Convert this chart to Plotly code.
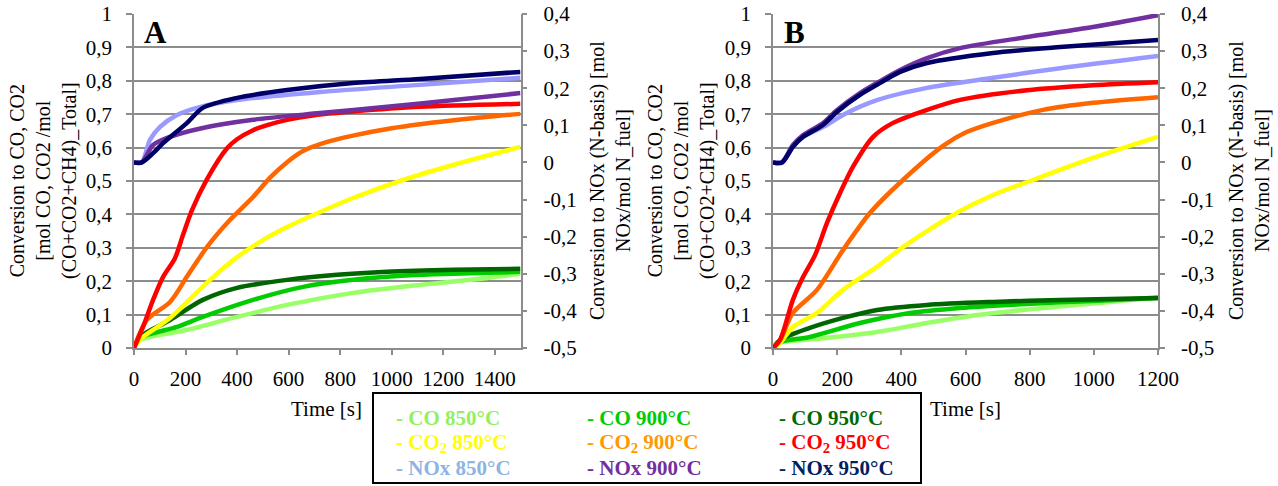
import plotly.graph_objects as go

W, H = 1278, 486

# ---------------- Data: panel A (time in s) ----------------
# CO / CO2 on left axis (0..1), NOx on right axis (-0.5..0.4)
A_co850_t = [0, 23, 205, 400, 594, 850, 1110, 1304, 1500]
A_co850_v = [0, 0.024, 0.054, 0.093, 0.129, 0.165, 0.189, 0.204, 0.222]
A_co900_t = [0, 23, 167, 267, 462, 656, 850, 1110, 1370, 1500]
A_co900_v = [0, 0.030, 0.063, 0.093, 0.144, 0.183, 0.204, 0.219, 0.225, 0.228]
A_co950_t = [0, 23, 140, 267, 400, 594, 788, 982, 1238, 1500]
A_co950_v = [0, 0.033, 0.084, 0.144, 0.180, 0.204, 0.219, 0.228, 0.234, 0.237]
A_co2850_t = [0, 30, 140, 295, 400, 500, 594, 722, 850, 1044, 1238, 1500]
A_co2850_v = [0, 0.030, 0.090, 0.204, 0.272, 0.323, 0.362, 0.407, 0.449, 0.503, 0.548, 0.602]
A_co2900_t = [0, 50, 140, 205, 283, 372, 462, 528, 600, 656, 750, 850, 1000, 1110, 1304, 1500]
A_co2900_v = [0, 0.084, 0.138, 0.213, 0.302, 0.383, 0.452, 0.510, 0.560, 0.590, 0.617, 0.636, 0.658, 0.670, 0.687, 0.701]
A_co2950_t = [0, 35, 74, 113, 159, 190, 225, 283, 361, 400, 462, 520, 594, 700, 850, 1110, 1500]
A_co2950_v = [0, 0.063, 0.144, 0.213, 0.269, 0.338, 0.413, 0.505, 0.598, 0.625, 0.652, 0.668, 0.683, 0.697, 0.708, 0.722, 0.731]
A_nox850_t = [0, 30, 62, 101, 167, 244, 400, 722, 1110, 1500]
A_nox850_v = [0, 0, 0.061, 0.096, 0.128, 0.147, 0.168, 0.190, 0.209, 0.228]
A_nox900_t = [0, 30, 74, 140, 267, 462, 722, 982, 1242, 1500]
A_nox900_v = [0, 0, 0.047, 0.069, 0.093, 0.115, 0.133, 0.150, 0.168, 0.187]
A_nox950_t = [0, 30, 74, 113, 205, 267, 400, 594, 850, 1110, 1500]
A_nox950_v = [0, 0, 0.025, 0.052, 0.106, 0.147, 0.174, 0.195, 0.214, 0.225, 0.244]

# ---------------- Data: panel B ----------------
B_co850_t = [0, 22, 168, 324, 480, 636, 842, 1050, 1200]
B_co850_v = [0, 0.015, 0.030, 0.048, 0.075, 0.099, 0.120, 0.138, 0.153]
B_co900_t = [0, 22, 115, 271, 427, 583, 792, 997, 1200]
B_co900_v = [0, 0.018, 0.033, 0.075, 0.105, 0.120, 0.132, 0.141, 0.150]
B_co950_t = [0, 22, 115, 218, 324, 480, 686, 895, 1200]
B_co950_v = [0, 0.024, 0.060, 0.090, 0.114, 0.129, 0.138, 0.144, 0.150]
B_co2850_t = [0, 22, 62, 137, 218, 324, 405, 480, 583, 686, 810, 997, 1200]
B_co2850_v = [0, 0.015, 0.063, 0.105, 0.174, 0.243, 0.302, 0.350, 0.410, 0.458, 0.503, 0.569, 0.632]
B_co2900_t = [0, 22, 62, 137, 218, 302, 405, 530, 600, 686, 842, 997, 1200]
B_co2900_v = [0, 0.024, 0.105, 0.174, 0.293, 0.404, 0.503, 0.605, 0.645, 0.674, 0.713, 0.734, 0.751]
B_co2950_t = [0, 22, 62, 94, 131, 168, 209, 249, 312, 374, 480, 583, 792, 997, 1200]
B_co2950_v = [0, 0.024, 0.144, 0.213, 0.278, 0.374, 0.464, 0.542, 0.632, 0.674, 0.713, 0.743, 0.772, 0.787, 0.796]
B_nox850_t = [0, 28, 62, 94, 168, 218, 324, 480, 686, 895, 1200]
B_nox850_v = [0, 0, 0.042, 0.069, 0.101, 0.128, 0.168, 0.201, 0.228, 0.254, 0.287]
B_nox900_t = [0, 28, 62, 94, 156, 199, 271, 324, 396, 480, 583, 792, 997, 1200]
B_nox900_v = [0, 0, 0.047, 0.074, 0.106, 0.141, 0.187, 0.214, 0.249, 0.281, 0.308, 0.338, 0.365, 0.397]
B_nox950_t = [0, 28, 62, 94, 156, 199, 271, 324, 396, 480, 686, 895, 1200]
B_nox950_v = [0, 0, 0.042, 0.069, 0.101, 0.136, 0.182, 0.209, 0.244, 0.268, 0.295, 0.311, 0.330]

# ---------------- Tick labels ----------------
left_vals = [0, 0.1, 0.2, 0.3, 0.4, 0.5, 0.6, 0.7, 0.8, 0.9, 1]
left_text = ["0", "0,1", "0,2", "0,3", "0,4", "0,5", "0,6", "0,7", "0,8", "0,9", "1"]
right_vals = [-0.5, -0.4, -0.3, -0.2, -0.1, 0, 0.1, 0.2, 0.3, 0.4]
right_text = ["-0,5", "-0,4", "-0,3", "-0,2", "-0,1", "0", "0,1", "0,2", "0,3", "0,4"]
xA_vals = [0, 200, 400, 600, 800, 1000, 1200, 1400]
xB_vals = [0, 200, 400, 600, 800, 1000, 1200]

series_names = ["CO 850°C", "CO 900°C", "CO 950°C",
                "CO<sub>2</sub> 850°C", "CO<sub>2</sub> 900°C", "CO<sub>2</sub> 950°C",
                "NOx 850°C", "NOx 900°C", "NOx 950°C"]
line_colors = ["#99FF66", "#00CC00", "#006600",
               "#FFFF00", "#FF6600", "#FF0000",
               "#9999FF", "#7030A0", "#000066"]
legend_colors = ["#92F060", "#00CC00", "#006A00",
                 "#FFFF00", "#FF9900", "#FF0000",
                 "#8DB4E2", "#7030A0", "#002060"]

A_data = [(A_co850_t, A_co850_v), (A_co900_t, A_co900_v), (A_co950_t, A_co950_v),
          (A_co2850_t, A_co2850_v), (A_co2900_t, A_co2900_v), (A_co2950_t, A_co2950_v),
          (A_nox850_t, A_nox850_v), (A_nox900_t, A_nox900_v), (A_nox950_t, A_nox950_v)]
B_data = [(B_co850_t, B_co850_v), (B_co900_t, B_co900_v), (B_co950_t, B_co950_v),
          (B_co2850_t, B_co2850_v), (B_co2900_t, B_co2900_v), (B_co2950_t, B_co2950_v),
          (B_nox850_t, B_nox850_v), (B_nox900_t, B_nox900_v), (B_nox950_t, B_nox950_v)]

fig = go.Figure()
for panel, data, xa, yl, yr in (("A", A_data, "x", "y", "y2"), ("B", B_data, "x2", "y3", "y4")):
    for i, (t, v) in enumerate(data):
        fig.add_trace(go.Scatter(
            x=t, y=v, mode="lines", name=series_names[i],
            line=dict(color=line_colors[i], width=4.5, shape="spline", smoothing=0.8),
            xaxis=xa, yaxis=(yr if i >= 6 else yl), showlegend=False,
            hoverinfo="skip"))

def px(x):
    return x / W

def py(y):
    return 1 - y / H

FONT = "Liberation Serif"
GRID = "#8C8C8C"
tickfont = dict(family=FONT, size=21, color="black")

y_dom = [py(348), py(14)]
xA_dom = [px(134), px(520.5)]
xB_dom = [px(773), px(1158)]

common_x = dict(showgrid=False, showline=True, linecolor=GRID, linewidth=1.5,
                ticks="outside", ticklen=5, tickcolor=GRID, tickwidth=1.5,
                tickfont=tickfont, zeroline=False, ticklabelstandoff=6,
                automargin=False)
common_yl = dict(range=[0, 1], tickvals=left_vals, ticktext=left_text,
                 showgrid=True, gridcolor=GRID, gridwidth=1.5,
                 showline=True, linecolor=GRID, linewidth=1.5,
                 ticks="outside", ticklen=6, tickcolor=GRID, tickwidth=1.5,
                 tickfont=tickfont, zeroline=False, domain=y_dom, ticklabelstandoff=10,
                 automargin=False)
common_yr = dict(range=[-0.5, 0.4], tickvals=right_vals, ticktext=right_text,
                 showgrid=False, showline=True, linecolor=GRID, linewidth=1.5,
                 ticks="outside", ticklen=5, tickcolor=GRID, tickwidth=1.5,
                 tickfont=tickfont, zeroline=False, side="right", ticklabelstandoff=12,
                 automargin=False)

fig.update_layout(
    width=W, height=H, autosize=False,
    margin=dict(l=0, r=0, t=0, b=0, pad=0),
    paper_bgcolor="white", plot_bgcolor="white",
    xaxis=dict(domain=xA_dom, range=[0, 1500], tickvals=xA_vals,
               ticktext=[str(v) for v in xA_vals], anchor="y", **common_x),
    xaxis2=dict(domain=xB_dom, range=[0, 1200], tickvals=xB_vals,
                ticktext=[str(v) for v in xB_vals], anchor="y3", **common_x),
    yaxis=dict(anchor="x", **common_yl),
    yaxis2=dict(anchor="x", overlaying="y", **common_yr),
    yaxis3=dict(anchor="x2", **common_yl),
    yaxis4=dict(anchor="x2", overlaying="y3", **common_yr),
)

left_title = "Conversion to CO, CO2<br>[mol CO, CO2 /mol<br>(CO+CO2+CH4)_Total]"
right_title = "Conversion to NOx (N-basis) [mol<br>NOx/mol N_fuel]"
title_font = dict(family=FONT, size=20, color="black")

ann = []
for xc, txt in ((43, left_title), (681, left_title), (610, right_title), (1249, right_title)):
    ann.append(dict(x=px(xc), y=py(181), xref="paper", yref="paper", text=txt,
                    textangle=-90, showarrow=False, font=title_font,
                    xanchor="center", yanchor="middle"))
for xc, txt in ((327, "Time [s]"), (965, "Time [s]")):
    ann.append(dict(x=px(xc), y=py(409), xref="paper", yref="paper", text=txt,
                    showarrow=False, font=dict(family=FONT, size=21, color="black"),
                    xanchor="center", yanchor="middle"))
for xc, txt in ((155, "A"), (794, "B")):
    ann.append(dict(x=px(xc), y=py(32), xref="paper", yref="paper", text="<b>%s</b>" % txt,
                    showarrow=False, font=dict(family=FONT, size=31, color="black"),
                    xanchor="center", yanchor="middle"))

col_x = [394, 585, 777]
row_y = [418, 443, 468]
for i, name in enumerate(series_names):
    r, c = divmod(i, 3)
    ann.append(dict(x=px(col_x[c]), y=py(row_y[r]), xref="paper", yref="paper",
                    text="<b>- %s</b>" % name, showarrow=False,
                    font=dict(family=FONT, size=21, color=legend_colors[i]),
                    xanchor="left", yanchor="middle"))
fig.update_layout(annotations=ann)

fig.add_shape(type="rect", xref="paper", yref="paper",
              x0=px(373), x1=px(921), y0=py(483), y1=py(393),
              line=dict(color="black", width=2), fillcolor="rgba(0,0,0,0)")

fig.write_html("out.html")
